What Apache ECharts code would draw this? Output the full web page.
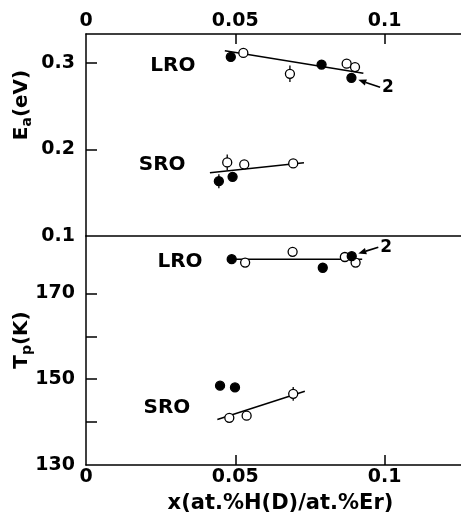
<!DOCTYPE html>
<html>
<head>
<meta charset="utf-8">
<script src="https://cdn.jsdelivr.net/npm/echarts@6/dist/echarts.min.js"></script>
<style>
html, body { margin: 0; padding: 0; background: #fff; }
#chart { width: 461px; height: 525px; }
</style>
</head>
<body>
<div id="chart"></div>
<script>
var FONT = "'DejaVu Sans', sans-serif";

var xLabels = [0, 0.05, 0.1];
var xTicks = [0.05, 0.1];
var eaLabels = [0.1, 0.2, 0.3];
var eaTicks = [0.2, 0.3];
var tpLabels = [130, 150, 170];
var tpTicks = [140, 150, 160, 170];

// E_a panel
var eaLroOpen = [[0.0527, 0.3112], [0.0683, 0.2871], [0.0873, 0.2988], [0.0901, 0.2949]];
var eaLroFilled = [[0.0485, 0.3065], [0.0789, 0.2977], [0.0889, 0.2825]];
var eaLroFit = [[0.0465, 0.3136], [0.0929, 0.2878]];
var eaSroOpen = [[0.0473, 0.1849], [0.053, 0.1826], [0.0694, 0.1837]];
var eaSroFilled = [[0.0445, 0.1632], [0.0491, 0.1682]];
var eaSroFit = [[0.0415, 0.1729], [0.073, 0.1846]];
var eaErr = [[0.0683, 0.2871, 0, 0.0095], [0.0473, 0.1849, 0, 0.009], [0.0445, 0.1632, 0, 0.008]];

// T_p panel
var tpLroOpen = [[0.0533, 177.2], [0.0692, 179.7], [0.0867, 178.5], [0.0903, 177.2]];
var tpLroFilled = [[0.0488, 178.0], [0.0793, 176.0], [0.089, 178.7]];
var tpLroFit = [[0.0493, 178.0], [0.0925, 178.0]];
var tpSroOpen = [[0.048, 141.0], [0.0538, 141.5], [0.0694, 146.6]];
var tpSroFilled = [[0.0449, 148.5], [0.0499, 148.1]];
var tpSroFit = [[0.044, 140.6], [0.0733, 147.2]];
var tpErr = [[0.0488, 178.0, 0, 1.0], [0.0694, 146.6, 0, 1.6]];

// text in data coords
var eaNotes = [[0.0291, 0.2968, 'LRO'], [0.0255, 0.1822, 'SRO']];
var tpNotes = [[0.0315, 177.3, 'LRO'], [0.0271, 143.4, 'SRO']];
// sample 2 arrows: from, to
var eaArrow = [[0.0985, 0.2715], [0.0912, 0.2801]];
var tpArrow = [[0.0979, 180.8], [0.0912, 179.3]];

function dots(data, g, filled) {
	return {
		type: 'scatter', xAxisIndex: g == 0 ? 0 : 2, yAxisIndex: g,
		data: data, symbol: 'circle', symbolSize: 9, z: 4,
		itemStyle: {color: filled ? '#000' : '#fff', borderColor: '#000', borderWidth: 1.3, opacity: 1}
	};
}

function fit(data, g) {
	return {
		type: 'line', xAxisIndex: g == 0 ? 0 : 2, yAxisIndex: g,
		data: data, symbol: 'none', z: 2,
		lineStyle: {color: '#000', width: 1.5}
	};
}

function errs(data, g) {
	return {
		type: 'custom', xAxisIndex: g == 0 ? 0 : 2, yAxisIndex: g,
		data: data, z: 1, encode: {x: 0, y: 1},
		renderItem: function(params, api) {
			var x = api.value(0), y = api.value(1), dx = api.value(2), dy = api.value(3);
			var kids = [];
			if (dy) {
				var a = api.coord([x, y - dy]), b = api.coord([x, y + dy]);
				kids.push({type: 'line', shape: {x1: a[0], y1: a[1], x2: b[0], y2: b[1]}, style: {stroke: '#000', lineWidth: 1.3}});
			}
			if (dx) {
				var c = api.coord([x - dx, y]), d = api.coord([x + dx, y]);
				kids.push({type: 'line', shape: {x1: c[0], y1: c[1], x2: d[0], y2: d[1]}, style: {stroke: '#000', lineWidth: 1.3}});
			}
			return {type: 'group', children: kids};
		}
	};
}

// text only, no visible symbol
function words(data, g, size, pos) {
	return {
		type: 'custom', xAxisIndex: g == 0 ? 0 : 2, yAxisIndex: g,
		data: data, z: 5, encode: {x: 0, y: 1},
		renderItem: function(params, api) {
			var p = api.coord([api.value(0), api.value(1)]);
			return {
				type: 'text', x: p[0] + (pos == 'right' ? 2 : 0), y: p[1],
				style: {
					text: data[params.dataIndex][2], fill: '#000',
					font: 'bold ' + size + 'px ' + FONT,
					align: pos == 'right' ? 'left' : 'center', verticalAlign: 'middle'
				}
			};
		}
	};
}

function arrow(pair, g) {
	return {
		type: 'custom', xAxisIndex: g == 0 ? 0 : 2, yAxisIndex: g,
		data: [[pair[0][0], pair[0][1], pair[1][0], pair[1][1]]], z: 5, encode: {x: 0, y: 1},
		renderItem: function(params, api) {
			var a = api.coord([api.value(0), api.value(1)]);
			var b = api.coord([api.value(2), api.value(3)]);
			var ang = Math.atan2(b[1] - a[1], b[0] - a[0]);
			var L = 8, W = 3.2;
			var bx = b[0] - L * Math.cos(ang), by = b[1] - L * Math.sin(ang);
			var nx = -Math.sin(ang) * W, ny = Math.cos(ang) * W;
			return {type: 'group', children: [
				{type: 'line', shape: {x1: a[0], y1: a[1], x2: bx, y2: by}, style: {stroke: '#000', lineWidth: 1.6}},
				{type: 'polygon', shape: {points: [[b[0], b[1]], [bx + nx, by + ny], [bx - nx, by - ny]]}, style: {fill: '#000'}}
			]};
		}
	};
}

var lab = {color: '#000', fontFamily: FONT, fontWeight: 'bold', fontSize: 19};
var axLine = {show: true, lineStyle: {color: '#000', width: 1.5}};
var tickStyle = {color: '#000', width: 1.5};

var chart = echarts.init(document.getElementById('chart'));
var option = {
	animation: false,
	backgroundColor: '#fff',
	grid: [
		{left: 86, top: 34, width: 375, height: 202},
		{left: 86, top: 236, width: 375, height: 229}
	],
	xAxis: [
		{
			gridIndex: 0, type: 'value', position: 'top', min: 0, max: 0.1256,
			axisLine: axLine, splitLine: {show: false},
			axisTick: {inside: true, length: 10, lineStyle: tickStyle, customValues: xTicks},
			axisLabel: Object.assign({margin: 3, customValues: xLabels}, lab)
		},
		{
			gridIndex: 0, type: 'value', position: 'bottom', min: 0, max: 0.1256,
			axisLine: axLine, splitLine: {show: false}, axisTick: {show: false}, axisLabel: {show: false}
		},
		{
			gridIndex: 1, type: 'value', position: 'bottom', min: 0, max: 0.1256,
			axisLine: axLine, splitLine: {show: false},
			axisTick: {inside: true, length: 10, lineStyle: tickStyle, customValues: xTicks},
			axisLabel: Object.assign({margin: 3, customValues: xLabels}, lab),
			name: 'x(at.%H(D)/at.%Er)', nameLocation: 'middle', nameGap: 28,
			nameTextStyle: {color: '#000', fontFamily: FONT, fontWeight: 'bold', fontSize: 21, padding: [0, 0, 0, 14]}
		}
	],
	yAxis: [
		{
			gridIndex: 0, type: 'value', min: 0.1, max: 0.333,
			axisLine: axLine, splitLine: {show: false},
			axisTick: {inside: true, length: 11, lineStyle: tickStyle, customValues: eaTicks},
			axisLabel: Object.assign({margin: 11, customValues: eaLabels}, lab)
		},
		{
			gridIndex: 1, type: 'value', min: 130, max: 183.4,
			axisLine: axLine, splitLine: {show: false},
			axisTick: {inside: true, length: 11, lineStyle: tickStyle, customValues: tpTicks},
			axisLabel: Object.assign({margin: 11, customValues: tpLabels}, lab)
		}
	],
	graphic: [
		{
			type: 'text', x: 22, y: 105, rotation: Math.PI / 2,
			style: {
				text: '{m|E}{s|a}{m|(eV)}', align: 'center', verticalAlign: 'middle', fill: '#000',
				rich: {
					m: {fontFamily: FONT, fontWeight: 'bold', fontSize: 20, fill: '#000'},
					s: {fontFamily: FONT, fontWeight: 'bold', fontSize: 14, fill: '#000', padding: [10, 0, 0, 0]}
				}
			}
		},
		{
			type: 'text', x: 22, y: 340, rotation: Math.PI / 2,
			style: {
				text: '{m|T}{s|p}{m|(K)}', align: 'center', verticalAlign: 'middle', fill: '#000',
				rich: {
					m: {fontFamily: FONT, fontWeight: 'bold', fontSize: 20, fill: '#000'},
					s: {fontFamily: FONT, fontWeight: 'bold', fontSize: 14, fill: '#000', padding: [10, 0, 0, 0]}
				}
			}
		}
	],
	series: [
		errs(eaErr, 0), errs(tpErr, 1),
		fit(eaLroFit, 0), fit(eaSroFit, 0), fit(tpLroFit, 1), fit(tpSroFit, 1),
		dots(eaLroOpen, 0, false), dots(eaLroFilled, 0, true),
		dots(eaSroOpen, 0, false), dots(eaSroFilled, 0, true),
		dots(tpLroOpen, 1, false), dots(tpLroFilled, 1, true),
		dots(tpSroOpen, 1, false), dots(tpSroFilled, 1, true),
		words(eaNotes, 0, 20, 'center'), words(tpNotes, 1, 20, 'center'),
		words([[eaArrow[0][0], eaArrow[0][1], '2']], 0, 17, 'right'),
		words([[tpArrow[0][0], tpArrow[0][1], '2']], 1, 17, 'right'),
		arrow(eaArrow, 0), arrow(tpArrow, 1)
	]
};
chart.setOption(option);
</script>
</body>
</html>
